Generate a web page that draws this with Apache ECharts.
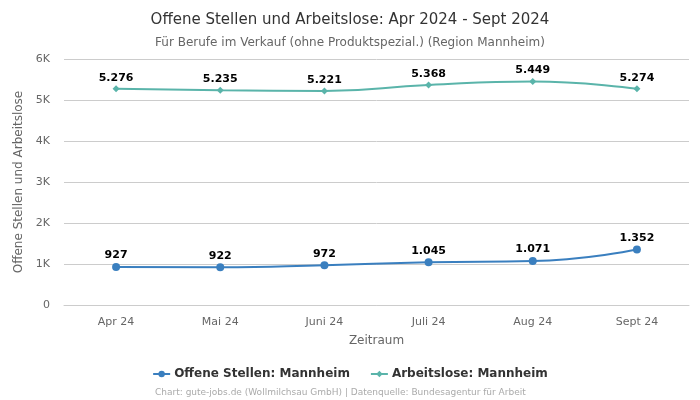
<!DOCTYPE html>
<html><head><meta charset="utf-8">
<script src="https://cdn.jsdelivr.net/npm/echarts@6/dist/echarts.min.js"></script>
<style>html,body{margin:0;padding:0;background:#fff}#c{width:700px;height:400px}</style>
</head><body><div id="c"></div>
<script>
var categories = ['Apr 24','Mai 24','Juni 24','Juli 24','Aug 24','Sept 24'];
var offeneStellen = [927, 922, 972, 1045, 1071, 1352];
var arbeitslose = [5276, 5235, 5221, 5368, 5449, 5274];
var yTicks = ['0','1K','2K','3K','4K','5K','6K'];
function fmt(v){return String(v).replace(/\B(?=(\d{3})+(?!\d))/g,'.');}
var font = 'DejaVu Sans';
var chart = echarts.init(document.getElementById('c'));
chart.setOption({
  animation:false,
  textStyle:{fontFamily:font},
  title:[{text:'Offene Stellen und Arbeitslose: Apr 2024 - Sept 2024',left:'center',top:8,textStyle:{fontFamily:font,fontSize:15,fontWeight:'normal',color:'#333'}},
         {text:'Für Berufe im Verkauf (ohne Produktspezial.) (Region Mannheim)',left:'center',top:32,textStyle:{fontFamily:font,fontSize:12,fontWeight:'normal',color:'#666'}},
         {text:'Chart: gute-jobs.de (Wollmilchsau GmbH) | Datenquelle: Bundesagentur für Arbeit',left:150,top:383,textStyle:{fontFamily:font,fontSize:9,fontWeight:'normal',color:'#aaa'}}],
  legend:{bottom:15,left:'center',itemGap:20,itemWidth:17,itemHeight:8,textStyle:{fontFamily:font,fontSize:12,fontWeight:'bold',color:'#333',padding:[0,0,0,-1]},data:['Offene Stellen: Mannheim','Arbeitslose: Mannheim']},
  grid:{left:64,right:11,top:59,bottom:95},
  xAxis:{type:'category',data:categories,boundaryGap:true,name:'Zeitraum',nameLocation:'middle',nameGap:30,
    nameTextStyle:{fontFamily:font,fontSize:12,color:'#666'},
    axisLine:{lineStyle:{color:'#ccc'}},axisTick:{show:false},axisLabel:{color:'#666',fontSize:11,margin:12}},
  yAxis:{type:'value',min:0,max:6000,interval:1000,name:'Offene Stellen und Arbeitslose',nameLocation:'middle',nameGap:36,
    nameTextStyle:{fontFamily:font,fontSize:12,color:'#666'},
    axisLabel:{color:'#666',fontSize:11,margin:14,formatter:function(v){return yTicks[Math.round(v/1000)];}},
    splitLine:{lineStyle:{color:'#ccc'}},axisLine:{show:false},axisTick:{show:false}},
  series:[
    {name:'Offene Stellen: Mannheim',type:'line',smooth:true,data:offeneStellen,symbol:'circle',symbolSize:8,
     itemStyle:{color:'#3a7fbf'},lineStyle:{width:2,color:'#3a7fbf'},
     label:{show:true,position:'top',distance:2,fontFamily:font,fontSize:11,fontWeight:'bold',color:'#000',formatter:function(p){return fmt(p.value);}}},
    {name:'Arbeitslose: Mannheim',type:'line',smooth:true,data:arbeitslose,symbol:'diamond',symbolSize:7,
     itemStyle:{color:'#5ab4aa'},lineStyle:{width:2,color:'#5ab4aa'},
     label:{show:true,position:'top',distance:2,fontFamily:font,fontSize:11,fontWeight:'bold',color:'#000',formatter:function(p){return fmt(p.value);}}}
  ]
});
</script></body></html>
